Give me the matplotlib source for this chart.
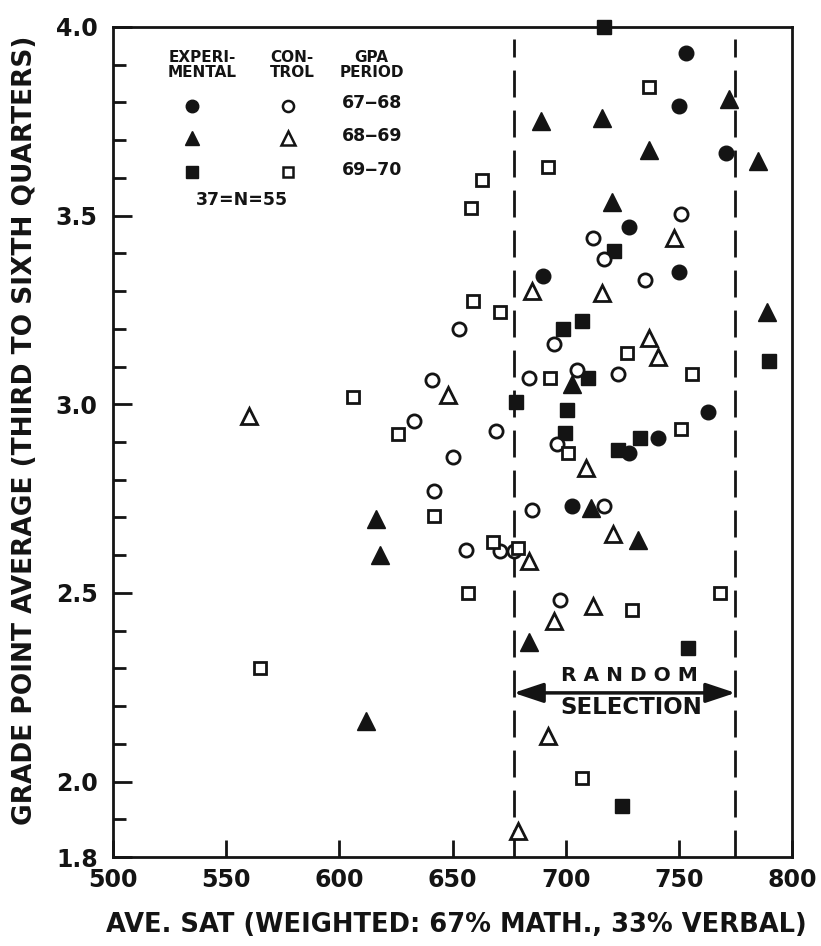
import matplotlib
matplotlib.use("Agg")
import matplotlib.pyplot as plt

# ---------------- data ----------------
# Experimental, GPA period 67-68 (filled circles)
exp_6768_sat = [753, 750, 771, 728, 750, 690, 763, 741, 728, 703]
exp_6768_gpa = [3.93, 3.79, 3.665, 3.47, 3.35, 3.34, 2.98, 2.91, 2.87, 2.73]

# Experimental, GPA period 68-69 (filled triangles)
exp_6869_sat = [689, 716, 772, 737, 785, 720.5, 789, 703, 711, 732, 684, 616, 618, 612]
exp_6869_gpa = [3.75, 3.76, 3.81, 3.675, 3.645, 3.535, 3.245, 3.055, 2.725, 2.64, 2.37, 2.695, 2.60, 2.16]

# Experimental, GPA period 69-70 (filled squares)
exp_6970_sat = [717, 721.5, 707, 699, 790, 710, 678, 700.5, 699.5, 733, 723, 754, 725]
exp_6970_gpa = [4.0, 3.405, 3.22, 3.20, 3.115, 3.07, 3.005, 2.985, 2.925, 2.91, 2.88, 2.355, 1.935]

# Control, GPA period 67-68 (open circles)
ctl_6768_sat = [751, 712, 717, 735, 653, 695, 723, 705, 684, 641, 633, 669, 696, 650,
                642, 685, 717, 656, 671, 677, 697.5]
ctl_6768_gpa = [3.505, 3.44, 3.385, 3.33, 3.20, 3.16, 3.08, 3.09, 3.07, 3.065, 2.955, 2.93,
                2.895, 2.86, 2.77, 2.72, 2.73, 2.615, 2.61, 2.61, 2.48]

# Control, GPA period 68-69 (open triangles)
ctl_6869_sat = [748, 685, 716, 737, 741, 648, 560, 709, 721, 684, 712, 695, 692, 679]
ctl_6869_gpa = [3.44, 3.30, 3.295, 3.175, 3.125, 3.025, 2.97, 2.83, 2.655, 2.585, 2.465,
                2.425, 2.12, 1.87]

# Control, GPA period 69-70 (open squares)
ctl_6970_sat = [737, 692, 663, 658, 659, 671, 727, 756, 693, 606, 626, 751, 701, 642,
                668, 679, 657, 768, 729.5, 707, 565]
ctl_6970_gpa = [3.84, 3.63, 3.595, 3.52, 3.275, 3.245, 3.135, 3.08, 3.07, 3.02, 2.92, 2.935,
                2.87, 2.705, 2.635, 2.62, 2.50, 2.50, 2.455, 2.01, 2.30]

selection_range = [677, 775]   # random-selection band (SAT)
x_ticks = [500, 550, 600, 650, 700, 750, 800]
y_ticks = [1.8, 2.0, 2.5, 3.0, 3.5, 4.0]
y_tick_labels = ["1.8", "2.0", "2.5", "3.0", "3.5", "4.0"]
y_minor = [1.9, 2.1, 2.2, 2.3, 2.4, 2.6, 2.7, 2.8, 2.9, 3.1, 3.2, 3.3, 3.4, 3.6, 3.7, 3.8, 3.9]
legend_periods = ["67\u201268", "68\u201269", "69\u201270"]

# ---------------- styling ----------------
ink = "#141414"
plt.rcParams["font.family"] = ["DejaVu Sans"]
plt.rcParams["font.weight"] = "bold"

fig = plt.figure(figsize=(8.21, 9.46), dpi=100)
ax = fig.add_axes([113 / 821, 1 - 857 / 946, 679 / 821, 830 / 946])
ax.set_xlim(500, 800)
ax.set_ylim(1.8, 4.0)

for s in ax.spines.values():
    s.set_linewidth(2.0)
    s.set_color(ink)

ax.set_xticks(x_ticks)
ax.set_xticklabels([str(v) for v in x_ticks])
ax.set_yticks(y_ticks)
ax.set_yticklabels(y_tick_labels)
ax.set_yticks(y_minor, minor=True)
ax.tick_params(axis="x", which="major", direction="in", length=12, width=2, pad=8,
               labelsize=17, colors=ink)
ax.tick_params(axis="y", which="major", direction="in", length=14, width=2, pad=11,
               labelsize=17, colors=ink)
ax.tick_params(axis="y", which="minor", direction="in", length=9, width=2, colors=ink)
for lab in ax.get_xticklabels() + ax.get_yticklabels():
    lab.set_fontweight("bold")

# dashed lines of the random-selection band
for xv in selection_range:
    ax.axvline(xv, ymin=0, ymax=0.985, color=ink, lw=2.0, dashes=(9.7, 4.7), zorder=1)

# arrow + text
arrow_y = 2.235
ax.annotate("", xy=(selection_range[0], arrow_y), xytext=(selection_range[1], arrow_y),
            arrowprops=dict(arrowstyle="<|-|>,head_length=0.9,head_width=0.3", lw=2.5,
                            color=ink, mutation_scale=20, shrinkA=0, shrinkB=0), zorder=2)
mid = (selection_range[0] + selection_range[1]) / 2
ax.text(mid + 2, arrow_y + 0.047, "R A N D O M", ha="center", va="center", fontsize=14.5,
        fontweight="bold", color=ink)
ax.text(mid + 3, arrow_y - 0.04, "SELECTION", ha="center", va="center", fontsize=16.5,
        fontweight="bold", color=ink)

# ---------------- points ----------------
ms_c, ms_s, ms_t = 10.5, 9.5, 12.5
mew = 2.0
ax.plot(exp_6768_sat, exp_6768_gpa, ls="none", marker="o", ms=ms_c, mfc=ink, mec=ink, zorder=3, clip_on=False)
ax.plot(exp_6869_sat, exp_6869_gpa, ls="none", marker="^", ms=ms_t, mfc=ink, mec=ink, zorder=3, clip_on=False)
ax.plot(exp_6970_sat, exp_6970_gpa, ls="none", marker="s", ms=ms_s + 1, mfc=ink, mec=ink, zorder=3, clip_on=False)
ax.plot(ctl_6768_sat, ctl_6768_gpa, ls="none", marker="o", ms=ms_c - 1, mfc="white", mec=ink, mew=mew, zorder=3, clip_on=False)
ax.plot(ctl_6869_sat, ctl_6869_gpa, ls="none", marker="^", ms=ms_t - 0.5, mfc="white", mec=ink, mew=mew, zorder=3, clip_on=False)
ax.plot(ctl_6970_sat, ctl_6970_gpa, ls="none", marker="s", ms=ms_s - 0.5, mfc="white", mec=ink, mew=mew, zorder=3, clip_on=False)

# ---------------- legend table ----------------
hdr_y = 0.954
hdr_fs = 11
ax.text(0.131, hdr_y, "EXPERI-\nMENTAL", transform=ax.transAxes, ha="center", va="center",
        fontsize=hdr_fs, fontweight="bold", color=ink, linespacing=1.05)
ax.text(0.264, hdr_y, "CON-\nTROL", transform=ax.transAxes, ha="center", va="center",
        fontsize=hdr_fs, fontweight="bold", color=ink, linespacing=1.05)
ax.text(0.381, hdr_y, "GPA\nPERIOD", transform=ax.transAxes, ha="center", va="center",
        fontsize=hdr_fs, fontweight="bold", color=ink, linespacing=1.05)
row_y = [0.905, 0.866, 0.825]
leg_markers = ["o", "^", "s"]
for yy, mk, lab in zip(row_y, leg_markers, legend_periods):
    sz = {"o": 9, "^": 10.5, "s": 8}[mk]
    ax.plot([0.116], [yy], transform=ax.transAxes, ls="none", marker=mk, ms=sz,
            mfc=ink, mec=ink, clip_on=False)
    ax.plot([0.258], [yy], transform=ax.transAxes, ls="none", marker=mk, ms=sz - 1,
            mfc="white", mec=ink, mew=1.8, clip_on=False)
    ax.text(0.381, yy + 0.003, lab, transform=ax.transAxes, ha="center", va="center",
            fontsize=12.5, fontweight="bold", color=ink)
ax.text(0.190, 0.792, "37=N=55", transform=ax.transAxes, ha="center", va="center",
        fontsize=12.5, fontweight="bold", color=ink)

# ---------------- axis labels ----------------
ax.set_xlabel("AVE. SAT (WEIGHTED: 67% MATH., 33% VERBAL)", fontsize=18.5, fontweight="bold",
              color=ink, va="center")
ax.xaxis.set_label_coords(0.505, -0.082)
ax.set_ylabel("GRADE POINT AVERAGE (THIRD TO SIXTH QUARTERS)", fontsize=19,
              fontweight="bold", color=ink, va="center")
ax.yaxis.set_label_coords(-0.130, 0.514)

fig.savefig("out.png", dpi=100, facecolor="white")
